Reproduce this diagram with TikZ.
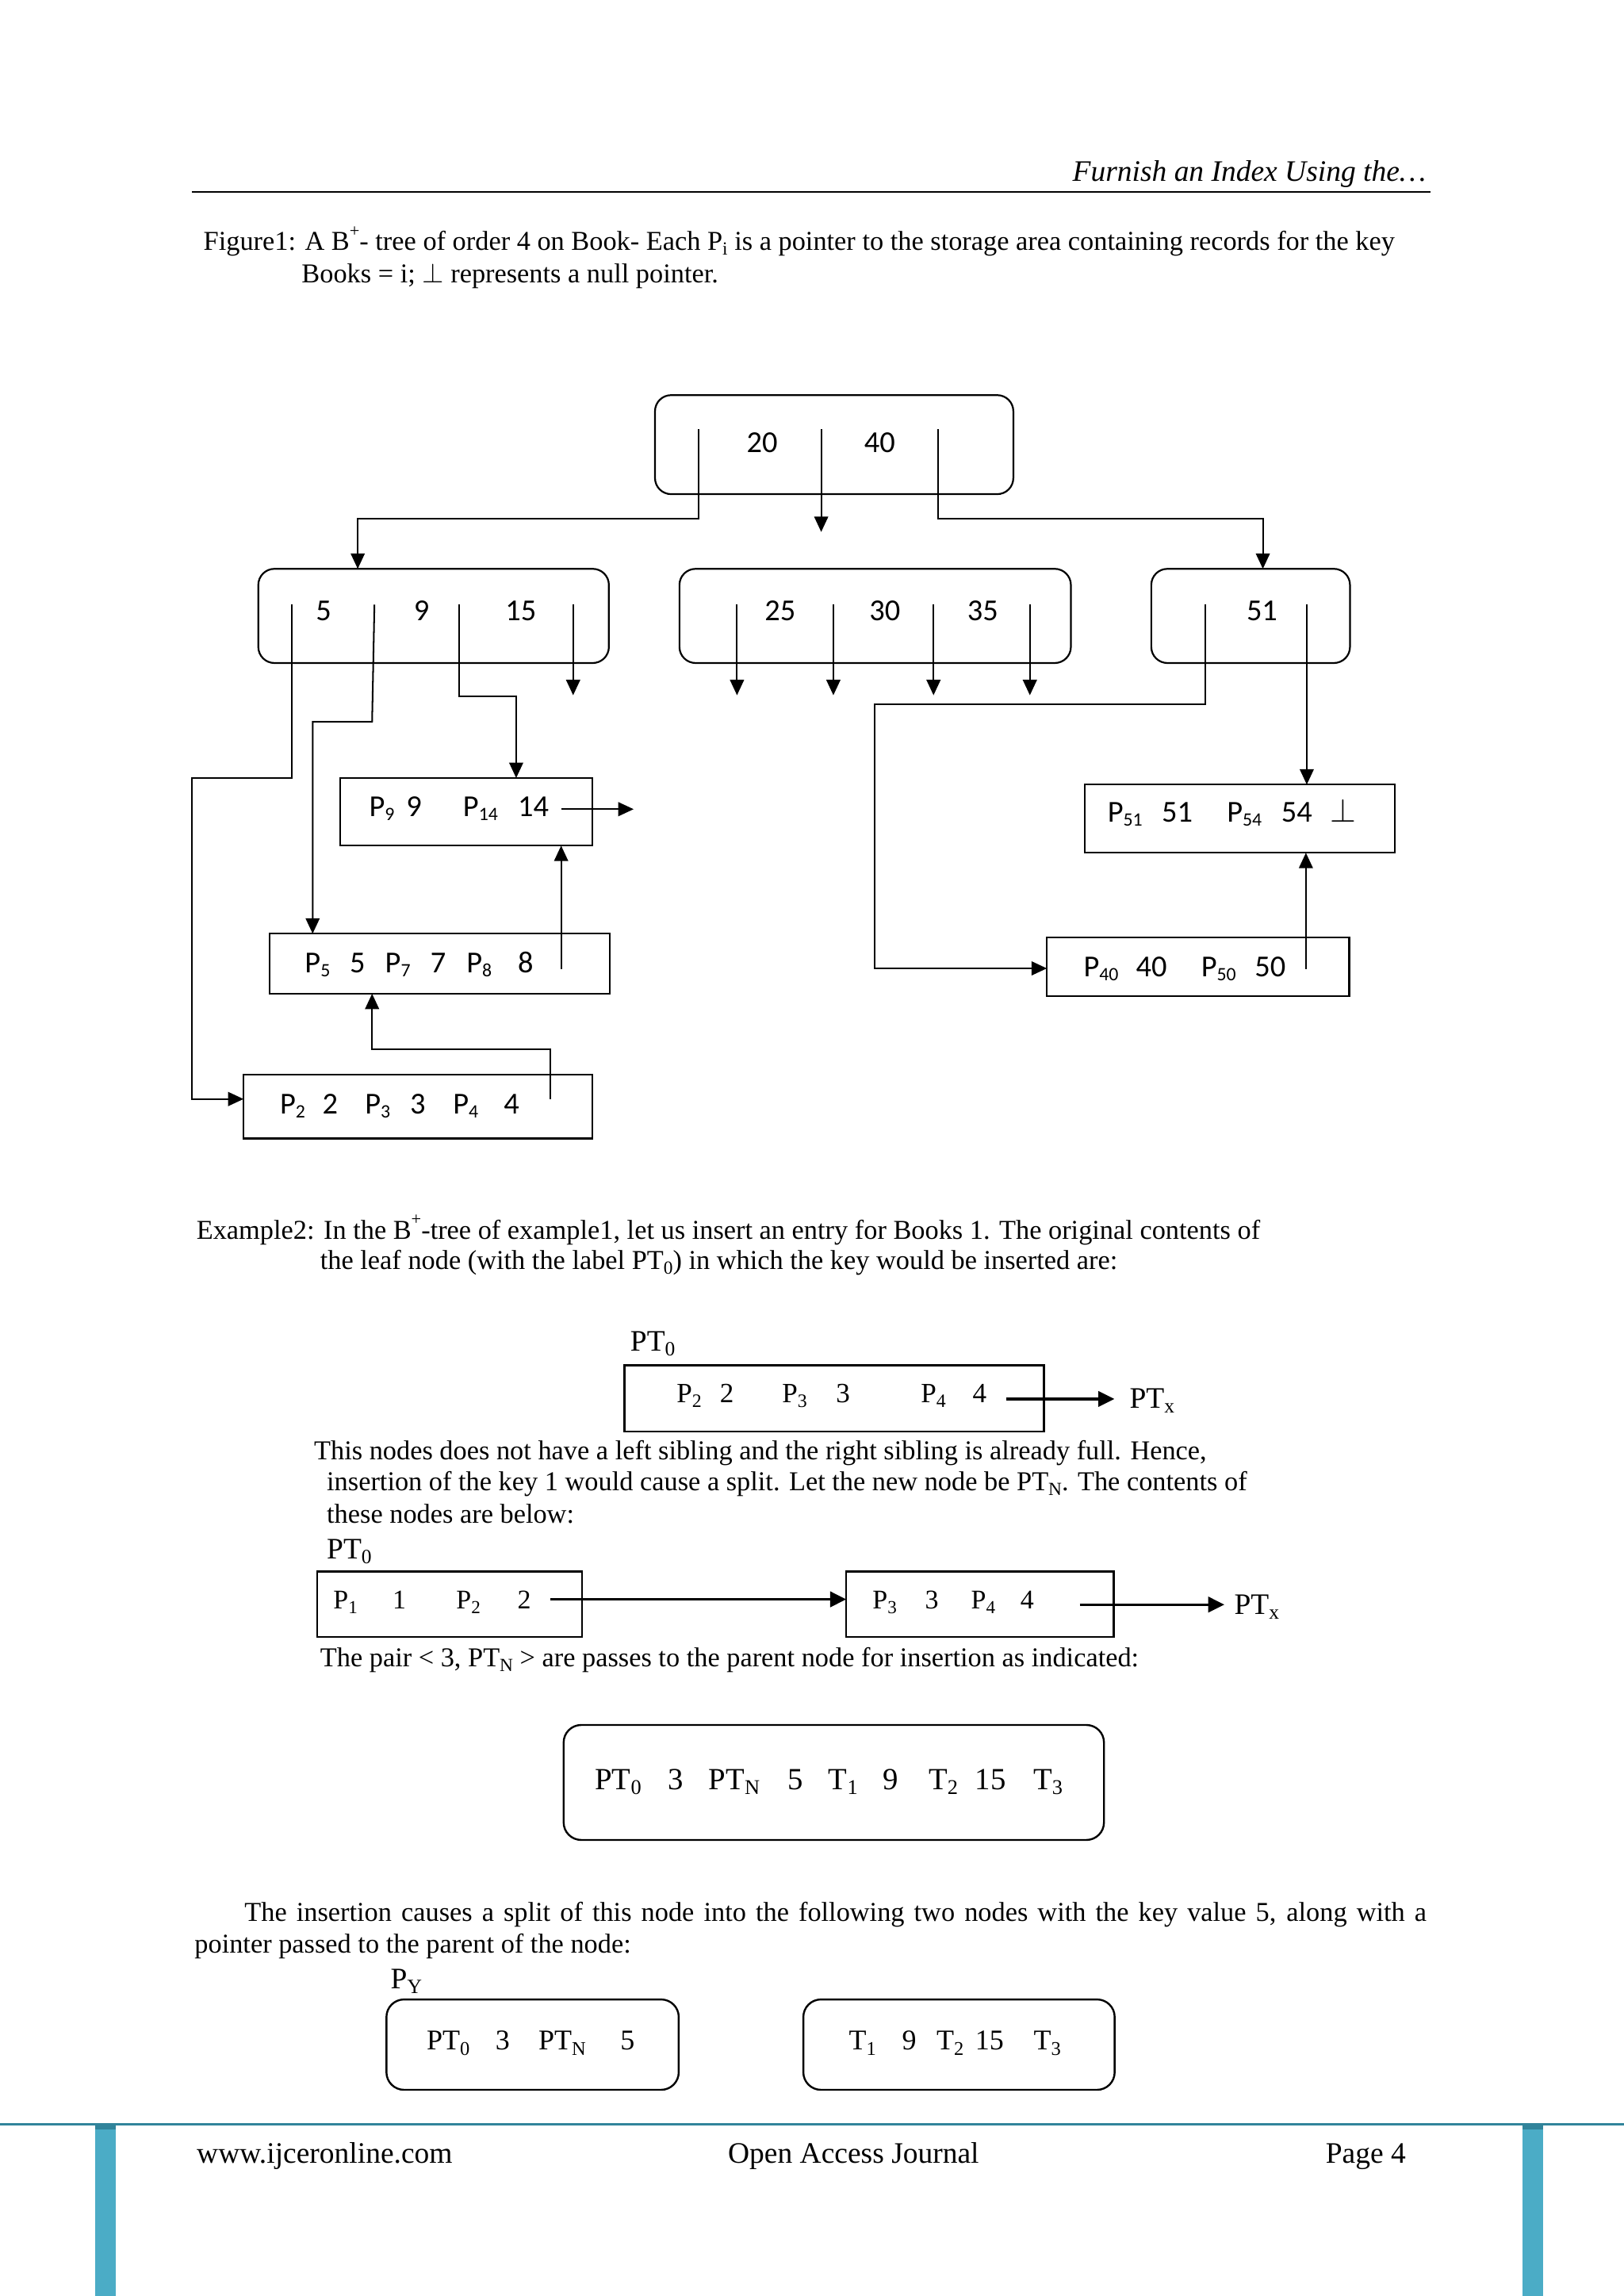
\documentclass[tikz,border=0pt]{standalone}
\usepackage{fontspec}
\setmainfont{Liberation Serif}
\newfontfamily\calib{Carlito}
\usetikzlibrary{arrows.meta}
\definecolor{tealdark}{HTML}{31849B}
\definecolor{teallight}{HTML}{4BACC6}
\newcommand\tk[2]{\makebox[#1pt][l]{#2}}
\newcommand\sbx[1]{\raisebox{-0.17em}{\scalebox{0.68}{#1}}}
\newcommand\csb[1]{\raisebox{-0.12em}{\scalebox{0.62}{#1}}}
\newcommand\spx[1]{\raisebox{0.5em}{\scalebox{0.65}{#1}}}
\newcommand\bodyf{\fontsize{18.6}{22}\selectfont}
\newcommand\bigf{\fontsize{20.3}{24}\selectfont}
\newcommand\treef{\calib\fontsize{20.8}{25}\selectfont}
\newcommand\perpb{\raisebox{0pt}{\scalebox{1.1}{$\perp$}}}
\begin{document}
\begin{tikzpicture}[x=1pt,y=-1pt,
  txt/.style={anchor=base west,inner sep=0pt,outer sep=0pt},
  ctr/.style={anchor=base,inner sep=0pt,outer sep=0pt},
  ln/.style={line width=1.1pt},
  arr/.style={line width=1.1pt,-{Triangle[length=10.5pt,width=9.5pt]}},
  earr/.style={line width=1.7pt,-{Triangle[length=11pt,width=10.5pt]}},
  rbox/.style={draw,line width=1.2pt,rounded corners=11pt,inner sep=0pt,outer sep=0pt},
  sbox/.style={draw,line width=1.2pt,inner sep=0pt,outer sep=0pt},
  ebox/.style={draw,line width=1.4pt,inner sep=0pt,outer sep=0pt},
  erbox/.style={draw,line width=1.3pt,rounded corners=12pt,inner sep=0pt,outer sep=0pt}]
\fill[white] (0,0) rectangle (1109,1567.7);
\useasboundingbox (0,0) rectangle (1109,1567.7);

% header
\node[anchor=base east,inner sep=0pt] (hdr) at (974,123.5) {\bigf\itshape Furnish an Index Using the…};
\coordinate (hl) at (131,131.2);
\coordinate (hr) at (977,131.2);
\draw[line width=1.2pt] (hl) -- (hr);

% caption
\node[txt] (cap1) at (139,170.8) {\bodyf Figure1: A B\spx{+}- tree of order 4 on Book- Each P\sbx{i} is a pointer to the storage area containing records for the key};
\node[txt] (cap2) at (206,193.3) {\bodyf Books = i; \perpb\ represents a null pointer.};

% ---------------- tree ----------------
\node[rbox,minimum width=244.7pt,minimum height=67.6pt] (root) at (569.65,303.6) {};
\node[rbox,minimum width=239.4pt,minimum height=64.3pt] (La) at (296.1,420.55) {};
\node[rbox,minimum width=267.3pt,minimum height=64.3pt] (Lb) at (597.65,420.55) {};
\node[rbox,minimum width=135.7pt,minimum height=64.3pt] (Lc) at (854.05,420.55) {};

\node[ctr] (k20) at (520.4,309) {\treef 20};
\node[ctr] (k40) at (600.7,309) {\treef 40};
\node[ctr] (k5) at (221,423.8) {\treef 5};
\node[ctr] (k9) at (287.9,423.8) {\treef 9};
\node[ctr] (k15) at (355.7,423.8) {\treef 15};
\node[ctr] (k25) at (532.8,423.8) {\treef 25};
\node[ctr] (k30) at (604.3,423.8) {\treef 30};
\node[ctr] (k35) at (671.1,423.8) {\treef 35};
\node[ctr] (k51) at (861.8,423.8) {\treef 51};

% leaves
\node[sbox,minimum width=172.6pt,minimum height=46.2pt] (P9) at (318.4,554.3) {};
\node[sbox,minimum width=232.5pt,minimum height=41pt] (P5) at (300.25,658) {};
\node[sbox,minimum width=238.4pt,minimum height=43.4pt] (P2) at (285.5,755.6) {};
\node[sbox,minimum width=211.9pt,minimum height=46.6pt] (P51) at (846.75,559) {};
\node[sbox,minimum width=206.5pt,minimum height=40.2pt] (P40) at (818.15,660) {};

\node[txt] (t9) at (252.1,557.7) {\treef\tk{25.4}{P\csb{9}}\tk{38.7}{9}\tk{37.5}{P\csb{14}}14};
\node[txt] (t5) at (208.2,664.4) {\treef\tk{30.7}{P\csb{5}}\tk{24.1}{5}\tk{31}{P\csb{7}}\tk{24.6}{7}\tk{35.1}{P\csb{8}}8};
\node[txt] (t2) at (191.2,760.8) {\treef\tk{29}{P\csb{2}}\tk{29.1}{2}\tk{30.7}{P\csb{3}}\tk{29.4}{3}\tk{34.6}{P\csb{4}}4};
\node[txt] (t51) at (756.4,561.4) {\treef\tk{37}{P\csb{51}}\tk{44.5}{51}\tk{37.1}{P\csb{54}}\tk{33.6}{54}\perpb};
\node[txt] (t40) at (740,667) {\treef\tk{35.8}{P\csb{40}}\tk{44.5}{40}\tk{36.6}{P\csb{50}}50};

% root pointers
\coordinate (r1) at (476.9,293);
\coordinate (r2) at (560.8,293);
\coordinate (r3) at (640.6,293);
\coordinate (LaIn) at (244.3,388.4);
\coordinate (r2end) at (560.8,363.2);
\coordinate (LcIn) at (862.4,388.4);
\draw[arr] (r1) -- (476.9,354.2) -- (244.3,354.2) -- (LaIn);
\draw[arr] (r2) -- (r2end);
\draw[arr] (r3) -- (640.6,354.2) -- (862.4,354.2) -- (LcIn);

% left internal node pointers
\coordinate (a1) at (199.2,412.8);
\coordinate (a2) at (255.7,412.8);
\coordinate (a3) at (313.7,412.8);
\coordinate (a4) at (391.4,412.8);
\coordinate (a4e) at (391.4,474.7);
\coordinate (P2In) at (166.3,750.4);
\coordinate (P5In) at (213.5,637.5);
\coordinate (P9In) at (352.5,531.2);
\draw[arr] (a1) -- (199.2,531.2) -- (130.8,531.2) -- (130.8,750.4) -- (P2In);
\draw[arr] (a2) -- (254.1,492.8) -- (213.5,492.8) -- (P5In);
\draw[arr] (a3) -- (313.7,475.4) -- (352.5,475.4) -- (P9In);
\draw[arr] (a4) -- (a4e);

% middle internal node pointers
\foreach \xx [count=\i] in {503.3,569.1,637.5,703.3}{
  \coordinate (b\i) at (\xx,412.8);
  \coordinate (b\i e) at (\xx,474.7);
  \draw[arr] (b\i) -- (b\i e);
}

% right internal node pointers
\coordinate (c1) at (822.9,412.8);
\coordinate (c2) at (892.4,412.8);
\coordinate (P40In) at (714.9,661.2);
\coordinate (P51In) at (892.4,535.7);
\draw[arr] (c1) -- (822.9,480.7) -- (597.1,480.7) -- (597.1,661.2) -- (P40In);
\draw[arr] (c2) -- (P51In);

% leaf chain
\coordinate (p9s) at (383.2,552.5);
\coordinate (p9e) at (432.7,552.5);
\draw[arr] (p9s) -- (p9e);
\coordinate (p5s) at (383.2,661.7);
\draw[arr] (p5s) -- (P9.south -| p5s);
\coordinate (p2s) at (375.7,750.4);
\coordinate (p5in) at (254.1,678.5);
\draw[arr] (p2s) -- (375.7,716.2) -- (254.1,716.2) -- (p5in);
\coordinate (p40s) at (891.8,661.5);
\draw[arr] (p40s) -- (P51.south -| p40s);

% ---------------- example 2 ----------------
\node[txt] (ex1) at (134.2,845.9) {\bodyf Example2: In the B\spx{+}-tree of example1, let us insert an entry for Books 1. The original contents of};
\node[txt] (ex2) at (218.7,866.7) {\bodyf the leaf node (with the label PT\sbx{0}) in which the key would be inserted are:};

\node[txt] (lab1) at (430.5,922.4) {\bigf PT\sbx{0}};
\node[ebox,minimum width=286.4pt,minimum height=45.1pt] (E1) at (569.6,954.85) {};
\node[txt] (e1t) at (462.1,957.6) {\fontsize{19}{22}\selectfont\tk{29.5}{P\sbx{2}}\tk{42.5}{2}\tk{36.8}{P\sbx{3}}\tk{58}{3}\tk{35.3}{P\sbx{4}}4};
\coordinate (e1s) at (687,955.2);
\node[txt] (px1) at (771.4,961.2) {\bigf PT\sbx{x}};
\coordinate (e1e) at (761,955.2);
\draw[earr] (e1s) -- (e1e);

\node[txt] (ex3) at (214.5,996.8) {\bodyf This nodes does not have a left sibling and the right sibling is already full. Hence,};
\node[txt] (ex4) at (223.2,1017.8) {\bodyf insertion of the key 1 would cause a split. Let the new node be PT\sbx{N}. The contents of};
\node[txt] (ex5) at (223.2,1040) {\bodyf these nodes are below:};

\node[txt] (lab2) at (223.2,1064.4) {\bigf PT\sbx{0}};
\node[ebox,minimum width=181pt,minimum height=44.6pt] (E2a) at (307,1095.4) {};
\node[ebox,minimum width=182.7pt,minimum height=44.6pt] (E2b) at (669.25,1095.4) {};
\node[txt] (e2at) at (227.7,1098.4) {\fontsize{18.4}{22}\selectfont\tk{40.4}{P\sbx{1}}\tk{43.5}{1}\tk{41.8}{P\sbx{2}}2};
\node[txt] (e2bt) at (595.9,1098.4) {\fontsize{18.4}{22}\selectfont\tk{35.9}{P\sbx{3}}\tk{31.4}{3}\tk{33.7}{P\sbx{4}}4};
\coordinate (e2s) at (375.9,1092);
\draw[earr] (e2s) -- (E2b.west |- e2s);
\coordinate (e3s) at (737.3,1095.6);
\coordinate (e3e) at (836.1,1095.6);
\draw[earr] (e3s) -- (e3e);
\node[txt] (px2) at (842.9,1102) {\bigf PT\sbx{x}};

\node[txt] (ex6) at (218.7,1138) {\bodyf The pair < 3, PT\sbx{N} > are passes to the parent node for insertion as indicated:};

\node[erbox,minimum width=369pt,minimum height=78.5pt] (E3) at (569.4,1217.05) {};
\node[txt] (e3t) at (406.3,1221.8) {\fontsize{21}{25}\selectfont\tk{49.8}{PT\sbx{0}}\tk{27.9}{3}\tk{53.8}{PT\sbx{N}}\tk{28}{5}\tk{37.3}{T\sbx{1}}\tk{31.1}{9}\tk{31.7}{T\sbx{2}}\tk{39.8}{15}T\sbx{3}};

\node[txt] (ex7) at (167,1311.8) {\bodyf\makebox[807.2pt][s]{The insertion causes a split of this node into the following two nodes with the key value 5, along with a}};
\node[txt] (ex8) at (132.9,1333.6) {\bodyf pointer passed to the parent of the node:};

\node[txt] (lab3) at (266.8,1357.8) {\bigf P\sbx{Y}};
\node[erbox,minimum width=199.6pt,minimum height=61.7pt] (E4a) at (363.7,1396.05) {};
\node[erbox,minimum width=212.6pt,minimum height=61.7pt] (E4b) at (654.9,1396.05) {};
\node[txt] (e4at) at (291.4,1399.8) {\fontsize{19.5}{23}\selectfont\tk{47}{PT\sbx{0}}\tk{29.4}{3}\tk{55.8}{PT\sbx{N}}5};
\node[txt] (e4bt) at (579.7,1399.8) {\fontsize{19.5}{23}\selectfont\tk{36.4}{T\sbx{1}}\tk{23.5}{9}\tk{26.4}{T\sbx{2}}\tk{39.9}{15}T\sbx{3}};

% ---------------- footer ----------------
\fill[teallight] (65.1,1451) rectangle (79.2,1567.7);
\fill[teallight] (1039.7,1451) rectangle (1053.8,1567.7);
\fill[tealdark] (65.1,1451) rectangle (79.2,1454);
\fill[tealdark] (1039.7,1451) rectangle (1053.8,1454);
\coordinate (fl) at (0,1450.7);
\coordinate (fr) at (1109,1450.7);
\draw[tealdark,line width=1.6pt] (fl) -- (fr);
\node[txt] (f1) at (134.4,1476.9) {\bigf www.ijceronline.com};
\node[txt] (f2) at (497.2,1476.9) {\bigf Open Access Journal};
\node[txt] (f3) at (905.3,1476.9) {\bigf Page 4};
\end{tikzpicture}
\end{document}
